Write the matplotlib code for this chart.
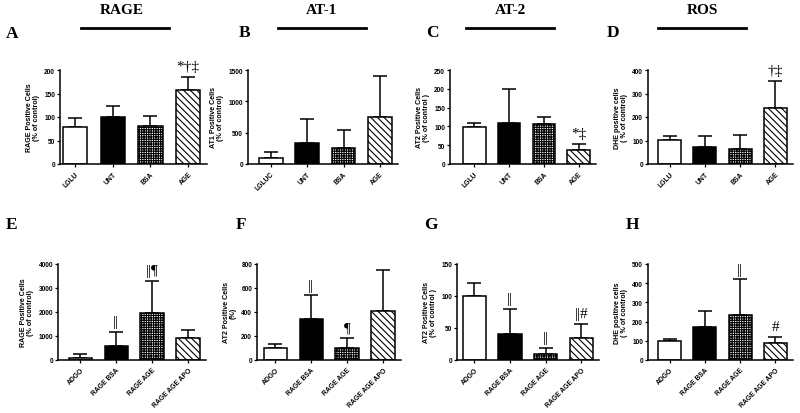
import numpy as np
import matplotlib
matplotlib.use("Agg")
import matplotlib.pyplot as plt
from matplotlib.lines import Line2D

W, H = 800, 414

# group names
top_groups = ["LGLU", "UNT", "BSA", "AGE"]
top_groups_b = ["LGLUC", "UNT", "BSA", "AGE"]
bottom_groups = ["ADGO", "RAGE BSA", "RAGE AGE", "RAGE AGE APO"]

# values (mean, upper SD)
rage_mean = [78, 100, 80, 158]
rage_err = [20, 24, 23, 28]
at1_mean = [96, 335, 250, 750]
at1_err = [101, 383, 293, 660]
at2_mean = [99, 109, 106, 36]
at2_err = [11, 90, 20, 18]
ros_mean = [102, 74, 64, 237]
ros_err = [18, 46, 61, 118]

rage2_mean = [99, 592, 1972, 901]
rage2_err = [141, 591, 1324, 353]
at2f_mean = [103, 345, 103, 410]
at2f_err = [28, 195, 81, 340]
at2g_mean = [100, 40, 9.5, 34]
at2g_err = [20, 40, 10, 22.5]
dhe_mean = [99, 172, 235, 91]
dhe_err = [12, 81, 187, 31]

# significance marks
marks_a = ["", "", "", "*†‡"]
marks_b = ["", "", "", ""]
marks_c = ["", "", "", "*‡"]
marks_d = ["", "", "", "†‡"]
marks_e = ["", "||", "||¶", ""]
marks_f = ["", "||", "¶", ""]
marks_g = ["", "||", "||", "||#"]
marks_h = ["", "", "||", "#"]

fills = [("white", None), ("black", None), ("white", "+++++++"), ("white", "\\\\\\\\\\")]

SANS = "Liberation Sans"
SERIF = "Liberation Serif"
plt.rcParams["hatch.linewidth"] = 0.8

fig = plt.figure(figsize=(W / 100, H / 100), dpi=100)


def px_axes(left, right, top, bottom):
    return fig.add_axes([left / W, 1 - bottom / H, (right - left) / W, (bottom - top) / H])


def panel(ax, labels, means, errs, ymax, step, ylabel, gap, marks):
    x = np.arange(len(means))
    for i in range(len(means)):
        fc, hatch = fills[i]
        ax.bar(x[i], means[i], width=0.65, color=fc, hatch=hatch,
               edgecolor="black", linewidth=1.1, zorder=2)
    ax.errorbar(x, means, yerr=[np.zeros(len(errs)), errs], fmt="none",
                ecolor="black", elinewidth=1.1, capsize=5, capthick=1.1, zorder=1)
    for i in range(len(means)):
        if marks[i]:
            ax.annotate(marks[i], (x[i], means[i] + errs[i]), xytext=(0, 2.5),
                        textcoords="offset points", ha="center", va="bottom",
                        fontfamily=SERIF, fontsize=11, annotation_clip=False)
    ax.set_xlim(-gap, 3.5)
    ax.set_ylim(0, ymax)
    ax.set_yticks(np.arange(0, ymax + 1, step))
    ax.set_xticks(x)
    ax.set_xticklabels(labels, rotation=45, ha="right", rotation_mode="anchor",
                       fontfamily=SANS, fontweight="bold", fontsize=4.9)
    for t in ax.get_yticklabels():
        t.set_fontfamily(SANS)
        t.set_fontweight("bold")
        t.set_fontsize(4.7)
    ax.tick_params(axis="x", length=2.5, width=0.9, pad=2)
    ax.tick_params(axis="y", length=2.5, width=0.9, pad=1)
    ax.spines["top"].set_visible(False)
    ax.spines["right"].set_visible(False)
    ax.spines["left"].set_linewidth(1.1)
    ax.spines["bottom"].set_linewidth(1.1)
    ax.set_ylabel(ylabel, fontfamily=SANS, fontweight="bold", fontsize=5.1,
                  labelpad=3, linespacing=1.1)
    ax.set_facecolor("none")


# top row
ax = px_axes(60, 207, 71, 165)
panel(ax, top_groups, rage_mean, rage_err, 200, 50,
      "RAGE Positive Cells\n(% of control)", 0.4, marks_a)
ax = px_axes(248, 398, 71, 165)
panel(ax, top_groups_b, at1_mean, at1_err, 1500, 500,
      "AT1 Positive Cells\n(% of control)", 0.63, marks_b)
ax = px_axes(450, 596, 71, 165)
panel(ax, top_groups, at2_mean, at2_err, 250, 50,
      "AT2 Positive Cells\n(% of control )", 0.7, marks_c)
ax = px_axes(648, 793, 71, 165)
panel(ax, top_groups, ros_mean, ros_err, 400, 100,
      "DHE positive cells\n( % of control)", 0.61, marks_d)

# bottom row
ax = px_axes(58, 206, 265, 361)
panel(ax, bottom_groups, rage2_mean, rage2_err, 4000, 1000,
      "RAGE Positive Cells\n(% of control)", 0.62, marks_e)
ax = px_axes(257, 401, 265, 361)
panel(ax, bottom_groups, at2f_mean, at2f_err, 800, 200,
      "AT2 Positive Cells\n(%)", 0.51, marks_f)
ax = px_axes(457, 599, 265, 361)
panel(ax, bottom_groups, at2g_mean, at2g_err, 150, 50,
      "AT2 Positive Cells\n(% of control )", 0.49, marks_g)
ax = px_axes(648, 793, 265, 361)
panel(ax, bottom_groups, dhe_mean, dhe_err, 500, 100,
      "DHE positive cells\n( % of control)", 0.61, marks_h)

# column headers with bars
headers = [("RAGE", 122, 81, 169), ("AT-1", 322, 278, 366),
           ("AT-2", 510, 466, 554), ("ROS", 702, 658, 746)]
for name, cx, x0, x1 in headers:
    fig.text(cx / W, 1 - 11 / H, name, ha="center", va="center",
             fontfamily=SERIF, fontweight="bold", fontsize=11)
    fig.add_artist(Line2D([x0 / W, x1 / W], [1 - 29 / H, 1 - 29 / H],
                          color="black", linewidth=2.0))

# panel letters
letters = [("A", 12, 34), ("B", 245, 33), ("C", 432, 33), ("D", 613, 33),
           ("E", 12, 225), ("F", 241, 225), ("G", 431, 225), ("H", 632, 225)]
for letter, lx, ly in letters:
    fig.text(lx / W, 1 - ly / H, letter, ha="center", va="center",
             fontfamily=SERIF, fontweight="bold", fontsize=12.5)

fig.savefig("out.png", dpi=100)
